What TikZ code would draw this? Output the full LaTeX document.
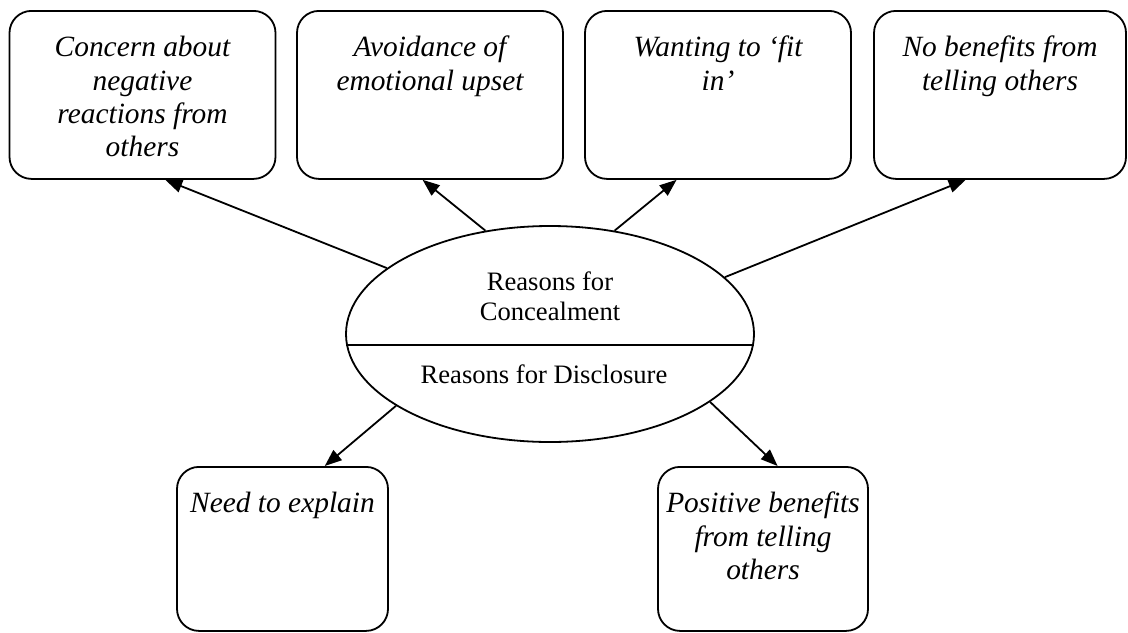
\documentclass[tikz,border=0pt]{standalone}
\usepackage{fontspec}
\setmainfont{Liberation Serif}
\usetikzlibrary{arrows.meta,shapes.geometric}
\tikzset{
  reasonbox/.style={draw, line width=0.9pt, rounded corners=11pt, inner sep=0pt, anchor=north},
  centre/.style={draw, ellipse, line width=0.9pt, minimum width=204pt, minimum height=108pt, inner sep=0pt},
  centretext/.style={font=\fontsize{13.3}{15}\selectfont, align=center, inner sep=0pt},
  link/.style={line width=0.9pt, -{Triangle[length=8.5pt,width=6.5pt]}}
}
\newcommand{\reasontext}[3]{\parbox[t][#2][t]{#1}{\centering\itshape\fontsize{14.7}{16.6}\selectfont\rule{0pt}{23pt}#3}}

\begin{document}
\begin{tikzpicture}[x=0.5pt,y=-0.5pt]
    \useasboundingbox (0,0) rectangle (1128,632);
    % reasons for concealment
    \node[reasonbox] (c1) at (142.5,10) {\reasontext{133pt}{84pt}{Concern about\\ negative\\ reactions from\\ others}};
    \node[reasonbox] (c2) at (430,10) {\reasontext{133pt}{84pt}{Avoidance of\\ emotional upset}};
    \node[reasonbox] (c3) at (718,10) {\reasontext{133pt}{84pt}{Wanting to ‘fit\\ in’}};
    \node[reasonbox] (c4) at (1000,10) {\reasontext{126pt}{84pt}{No benefits from\\ telling others}};
    % reasons for disclosure
    \node[reasonbox] (d1) at (282.5,466) {\reasontext{105.5pt}{82pt}{Need to explain}};
    \node[reasonbox] (d2) at (763,466) {\reasontext{105pt}{82pt}{Positive benefits\\ from telling\\ others}};
    % centre
    \node[centre] (ell) at (550,334) {};
    \draw[line width=0.9pt] (ell.183.4) -- (ell.-3.4);
    \node[centretext] (conceal) at (550,296) {Reasons for\\ Concealment};
    \node[centretext, anchor=base] (disclose) at (544,383) {Reasons for Disclosure};
    \draw[link] (ell.158.8) -- (c1.-75);
    \draw[link] (ell.122) -- (c2.265);
    \draw[link] (ell.58) -- (c3.244.5);
    \draw[link] (ell.18.8) -- (c4.248.6);
    \draw[link] (ell.205.2) -- (d1.63.7);
    \draw[link] (ell.337.8) -- (d2.80.3);
\end{tikzpicture}
\end{document}
